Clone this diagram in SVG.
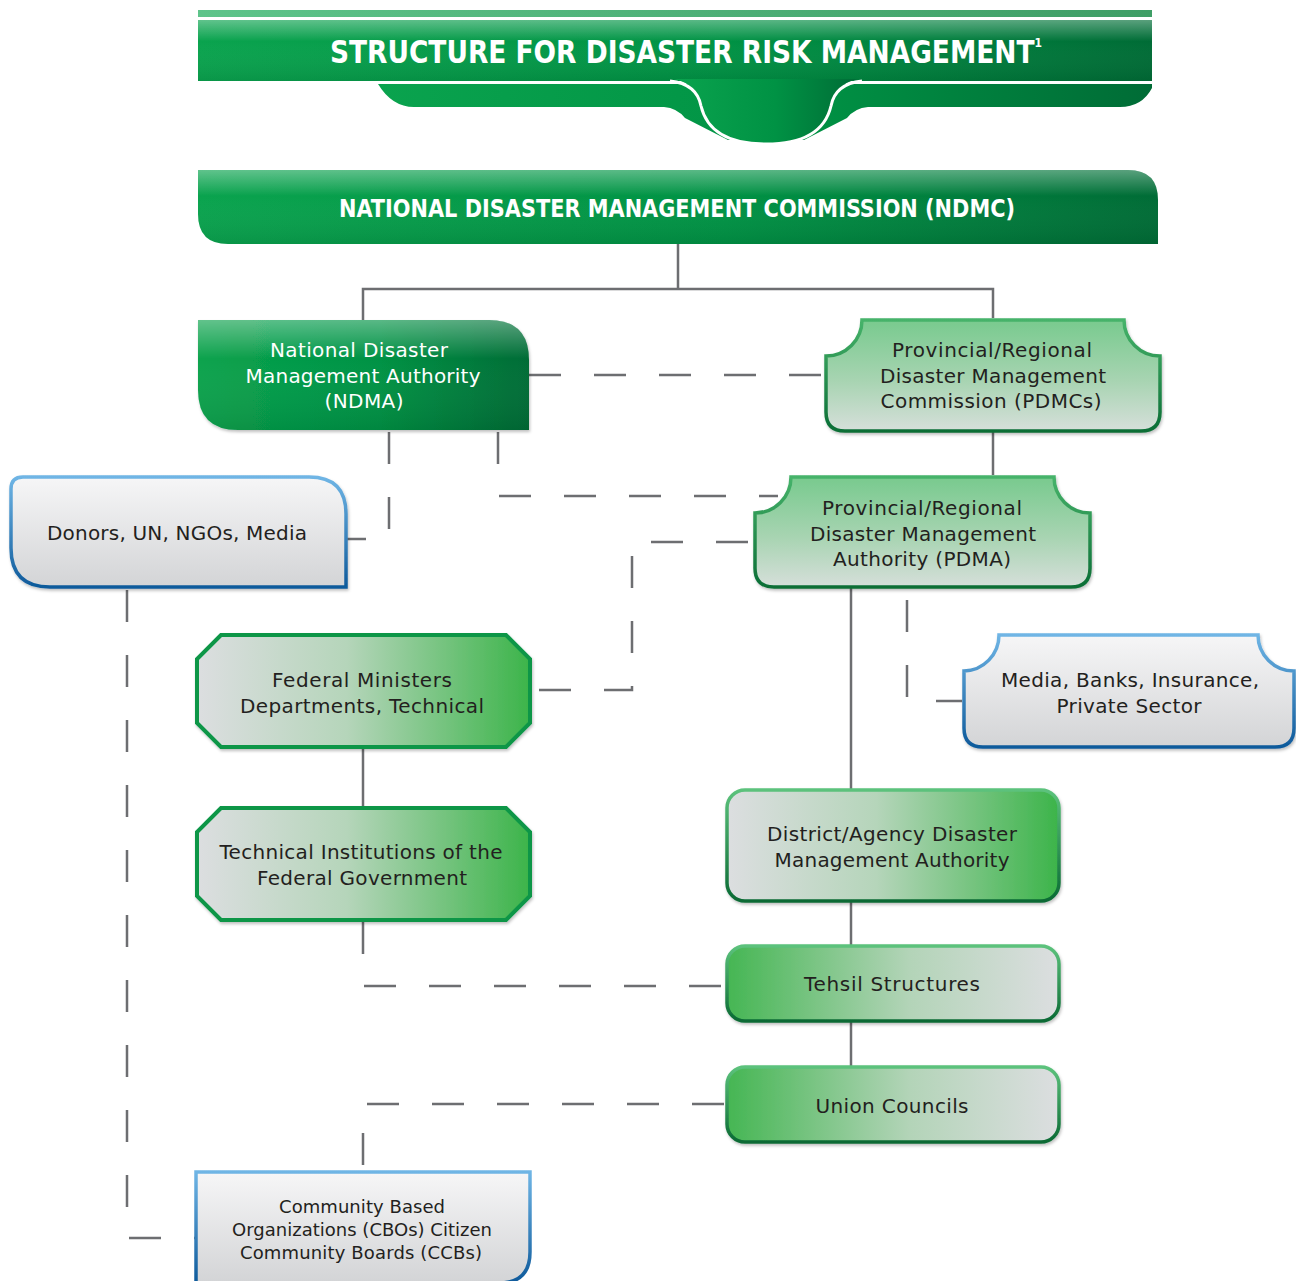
<svg xmlns="http://www.w3.org/2000/svg" width="1296" height="1281" viewBox="0 0 1296 1281">
<defs>
  <linearGradient id="gBand" x1="0" y1="0" x2="1" y2="0">
    <stop offset="0" stop-color="#0aa34e"/>
    <stop offset="0.55" stop-color="#009244"/>
    <stop offset="1" stop-color="#006c36"/>
  </linearGradient>
  <linearGradient id="gGloss" x1="0" y1="0" x2="0" y2="1">
    <stop offset="0" stop-color="#ffffff" stop-opacity="0.35"/>
    <stop offset="0.35" stop-color="#ffffff" stop-opacity="0"/>
    <stop offset="1" stop-color="#000000" stop-opacity="0.08"/>
  </linearGradient>
  <linearGradient id="gStripe" x1="0" y1="0" x2="1" y2="0">
    <stop offset="0" stop-color="#5ec48a"/>
    <stop offset="1" stop-color="#3f9e66"/>
  </linearGradient>
  <linearGradient id="gTicket" x1="0" y1="0" x2="0" y2="1">
    <stop offset="0" stop-color="#78ca8e"/>
    <stop offset="0.55" stop-color="#a8d4b2"/>
    <stop offset="1" stop-color="#d6dfda"/>
  </linearGradient>
  <linearGradient id="gTicketStroke" x1="0" y1="0" x2="0" y2="1">
    <stop offset="0" stop-color="#46b36a"/>
    <stop offset="1" stop-color="#0b6e36"/>
  </linearGradient>
  <linearGradient id="gGrey" x1="0" y1="0" x2="0" y2="1">
    <stop offset="0" stop-color="#f6f6f7"/>
    <stop offset="1" stop-color="#d3d4d6"/>
  </linearGradient>
  <linearGradient id="gBlueStroke" x1="0" y1="0" x2="0" y2="1">
    <stop offset="0" stop-color="#6fb5e5"/>
    <stop offset="1" stop-color="#0e5a9b"/>
  </linearGradient>
  <linearGradient id="gGreyGreen" x1="0" y1="0" x2="1" y2="0">
    <stop offset="0" stop-color="#dcdee0"/>
    <stop offset="0.45" stop-color="#b5d5ba"/>
    <stop offset="1" stop-color="#3cb44a"/>
  </linearGradient>
  <linearGradient id="gGreenGrey" x1="0" y1="0" x2="1" y2="0">
    <stop offset="0" stop-color="#45b653"/>
    <stop offset="0.55" stop-color="#b3d4b8"/>
    <stop offset="1" stop-color="#dcdee0"/>
  </linearGradient>
  <linearGradient id="gRoundStroke" x1="0" y1="0" x2="0" y2="1">
    <stop offset="0" stop-color="#5cc27c"/>
    <stop offset="1" stop-color="#0a6a34"/>
  </linearGradient>
  <filter id="sh" x="-5%" y="-5%" width="110%" height="115%">
    <feDropShadow dx="1" dy="2" stdDeviation="1.5" flood-color="#000" flood-opacity="0.25"/>
  </filter>
</defs>
<style>
  .conn{fill:none;stroke:#6d6e71;stroke-width:2.5}
  .dash{stroke-dasharray:32 33}
  .tw{fill:#ffffff;font-family:"DejaVu Sans","Liberation Sans",sans-serif;font-size:20px;text-anchor:middle}
  .td{fill:#231f20;font-family:"DejaVu Sans","Liberation Sans",sans-serif;font-size:20px;text-anchor:middle}
  .tsm{font-size:18px}
  .hd{fill:#ffffff;font-family:"DejaVu Sans Condensed","DejaVu Sans",sans-serif;font-weight:bold;text-anchor:middle}
  .ticket{fill:url(#gTicket);stroke:url(#gTicketStroke);stroke-width:3.5}
  .blue{fill:url(#gGrey);stroke:url(#gBlueStroke);stroke-width:3.5}
  .oct{fill:url(#gGreyGreen);stroke:#0b9647;stroke-width:4}
  .rr1{fill:url(#gGreyGreen);stroke:url(#gRoundStroke);stroke-width:3.5}
  .rr2{fill:url(#gGreenGrey);stroke:url(#gRoundStroke);stroke-width:3.5}
</style>

<g id="title">
  <rect x="198" y="10" width="954" height="7" fill="url(#gStripe)"/>
  <rect x="198" y="20" width="954" height="61" fill="url(#gBand)"/>
  <rect x="198" y="20" width="954" height="61" fill="url(#gGloss)"/>
  <path d="M 378 84 L 1152 84 L 1152 88 Q 1142 107 1120 107 L 868 107 Q 855 108 847 118 L 804 140 L 728 140 L 685 118 Q 677 108 664 107 L 414 107 Q 392 107 378 84 Z" fill="url(#gBand)"/>
  <path d="M 674 79 Q 697 84 701 106 Q 710 144 766 144 Q 822 144 831 106 Q 835 84 858 79 Z" fill="url(#gBand)"/>
  <path d="M 670 81 Q 697 84 701 106 Q 710 144 766 144 Q 822 144 831 106 Q 835 84 862 81" fill="none" stroke="#ffffff" stroke-width="3"/>
  <text class="hd" x="686" y="63" font-size="32" textLength="712" lengthAdjust="spacingAndGlyphs">STRUCTURE FOR DISASTER RISK MANAGEMENT<tspan font-size="13" dy="-16">1</tspan></text>
</g>

<g id="ndmc">
  <path d="M 198 170 L 1128 170 Q 1158 170 1158 200 L 1158 244 L 228 244 Q 198 244 198 214 Z" fill="url(#gBand)"/>
  <path d="M 198 170 L 1128 170 Q 1158 170 1158 200 L 1158 244 L 228 244 Q 198 244 198 214 Z" fill="url(#gGloss)"/>
  <text class="hd" x="677" y="217" font-size="24" textLength="676" lengthAdjust="spacingAndGlyphs">NATIONAL DISASTER MANAGEMENT COMMISSION (NDMC)</text>
</g>

<g id="connectors">
  <path class="conn" d="M 678 244 V 289 M 363 320 V 289 H 993 V 318"/>
  <path class="conn" d="M 993 432 V 475"/>
  <path class="conn" d="M 851 588 V 790"/>
  <path class="conn" d="M 851 902 V 945"/>
  <path class="conn" d="M 851 1022 V 1066"/>
  <path class="conn" d="M 363 748 V 808"/>
  <path class="conn dash" d="M 529 375 H 826"/>
  <path class="conn dash" d="M 498 432 V 496 H 778"/>
  <path class="conn dash" d="M 389 432 V 539 H 347"/>
  <path class="conn dash" d="M 748 542 H 632 V 690 H 532"/>
  <path class="conn dash" d="M 907 600 V 701 H 962"/>
  <path class="conn dash" d="M 363 922 V 986 H 724"/>
  <path class="conn dash" d="M 724 1104 H 363 V 1170"/>
  <path class="conn dash" d="M 127 590 V 1238 H 195"/>
</g>

<g id="ndma">
  <path d="M 198 320 L 489 320 Q 529 320 529 360 L 529 430 L 238 430 Q 198 430 198 390 Z" fill="url(#gBand)" filter="url(#sh)"/>
  <path d="M 198 320 L 489 320 Q 529 320 529 360 L 529 430 L 238 430 Q 198 430 198 390 Z" fill="url(#gGloss)"/>
  <text class="tw" x="359" y="357" textLength="178">National Disaster</text>
  <text class="tw" x="363" y="383" textLength="235">Management Authority</text>
  <text class="tw" x="364" y="408" textLength="79">(NDMA)</text>
</g>

<g id="pdmc">
  <path class="ticket" filter="url(#sh)" d="M 862 320 L 1124 320 A 36 36 0 0 0 1160 356 L 1160 412 Q 1160 431 1141 431 L 845 431 Q 826 431 826 412 L 826 356 A 36 36 0 0 0 862 320 Z"/>
  <text class="td" x="992" y="357" textLength="200">Provincial/Regional</text>
  <text class="td" x="993" y="383" textLength="226">Disaster Management</text>
  <text class="td" x="991" y="408" textLength="221">Commission (PDMCs)</text>
</g>

<g id="pdma">
  <path class="ticket" filter="url(#sh)" d="M 791 477 L 1054 477 A 36 36 0 0 0 1090 513 L 1090 568 Q 1090 587 1071 587 L 774 587 Q 755 587 755 568 L 755 513 A 36 36 0 0 0 791 477 Z"/>
  <text class="td" x="922" y="515" textLength="200">Provincial/Regional</text>
  <text class="td" x="923" y="541" textLength="226">Disaster Management</text>
  <text class="td" x="922" y="566" textLength="178">Authority (PDMA)</text>
</g>

<g id="donors">
  <path class="blue" filter="url(#sh)" d="M 23 477 L 309 477 Q 346 477 346 514 L 346 587 L 50 587 Q 11 587 11 548 L 11 489 Q 11 477 23 477 Z"/>
  <text class="td" x="177" y="540" textLength="260">Donors, UN, NGOs, Media</text>
</g>

<g id="federal">
  <path class="oct" filter="url(#sh)" d="M 221 635 L 506 635 L 530 659 L 530 723 L 506 747 L 221 747 L 197 723 L 197 659 Z"/>
  <text class="td" x="362" y="687" textLength="180">Federal Ministers</text>
  <text class="td" x="362" y="713" textLength="244">Departments, Technical</text>
</g>

<g id="technical">
  <path class="oct" filter="url(#sh)" d="M 221 808 L 506 808 L 530 832 L 530 896 L 506 920 L 221 920 L 197 896 L 197 832 Z"/>
  <text class="td" x="361" y="859" textLength="283">Technical Institutions of the</text>
  <text class="td" x="362" y="885" textLength="210">Federal Government</text>
</g>

<g id="media">
  <path class="blue" filter="url(#sh)" d="M 999 635 L 1258 635 A 36 36 0 0 0 1294 671 L 1294 728 Q 1294 747 1275 747 L 983 747 Q 964 747 964 728 L 964 671 A 36 36 0 0 0 999 635 Z"/>
  <text class="td" x="1130" y="687" textLength="258">Media, Banks, Insurance,</text>
  <text class="td" x="1129" y="713" textLength="145">Private Sector</text>
</g>

<g id="district">
  <rect class="rr1" filter="url(#sh)" x="727" y="790" width="332" height="111" rx="18"/>
  <text class="td" x="892" y="841" textLength="250">District/Agency Disaster</text>
  <text class="td" x="892" y="867" textLength="235">Management Authority</text>
</g>

<g id="tehsil">
  <rect class="rr2" filter="url(#sh)" x="727" y="946" width="332" height="75" rx="18"/>
  <text class="td" x="892" y="991" textLength="176">Tehsil Structures</text>
</g>

<g id="union">
  <rect class="rr2" filter="url(#sh)" x="727" y="1067" width="332" height="75" rx="18"/>
  <text class="td" x="892" y="1113" textLength="153">Union Councils</text>
</g>

<g id="cbo">
  <path class="blue" d="M 196 1172 L 530 1172 L 530 1252 Q 530 1283 499 1283 L 196 1283 Z"/>
  <text class="td tsm" x="362" y="1213" textLength="166">Community Based</text>
  <text class="td tsm" x="362" y="1236" textLength="260">Organizations (CBOs) Citizen</text>
  <text class="td tsm" x="361" y="1259" textLength="242">Community Boards (CCBs)</text>
</g>
</svg>
